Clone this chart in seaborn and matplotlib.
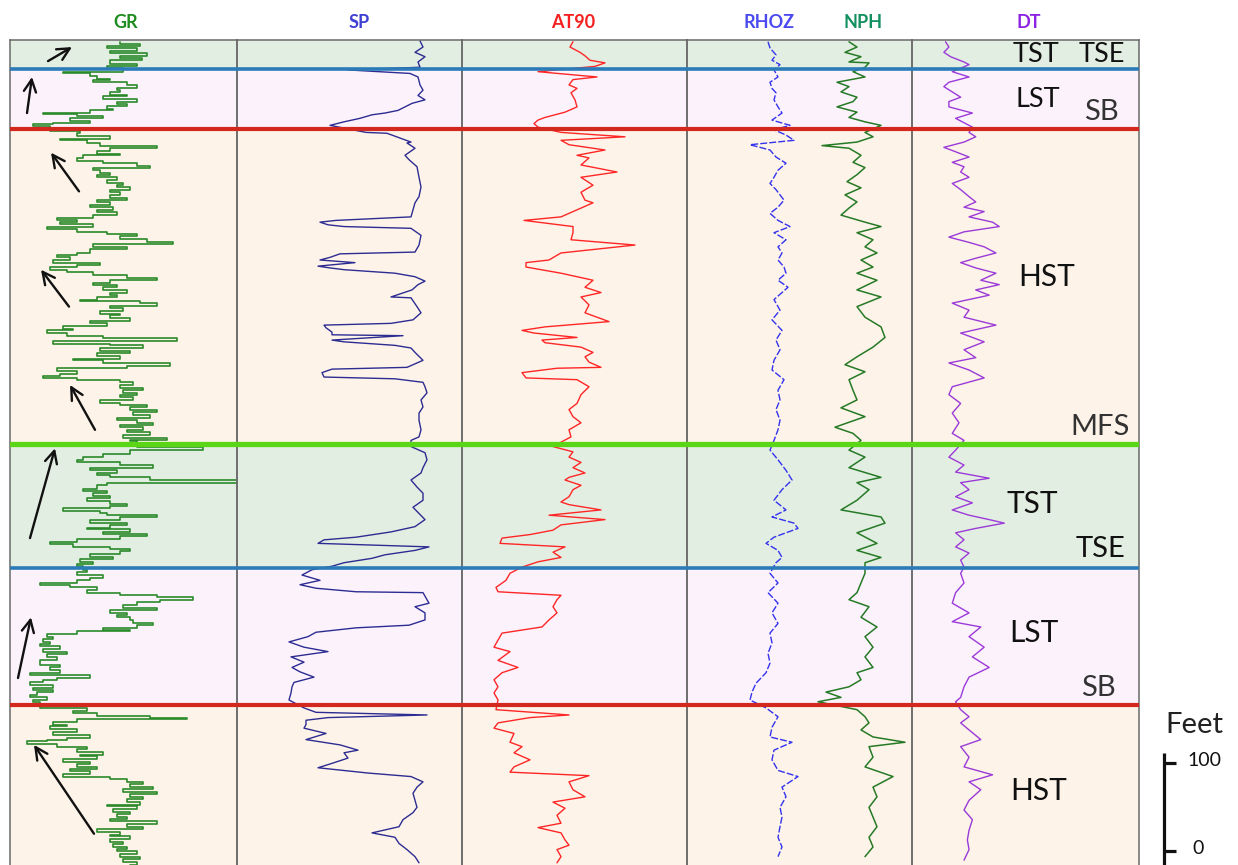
import matplotlib
matplotlib.use("Agg")
import matplotlib.pyplot as plt
import seaborn as sns

sns.set_theme(style="white")
plt.rcParams["font.family"] = ["Lato", "DejaVu Sans"]

# ---------------------------------------------------------------- log data
# depths in feet below the top of the displayed interval

gr_depth = [2, 5, 7, 9, 12, 15, 18, 21, 23, 27, 30, 32,
            36, 38, 41, 44, 46, 48, 51, 54, 57, 59, 62, 64, 67, 70, 73, 75, 78, 80, 83, 84, 86,
            89, 92, 94, 96, 98,
            103, 106, 109, 112, 114, 117, 120, 123, 126, 129, 131, 134, 137, 140, 143, 145, 148,
            151, 153, 156, 159, 162, 165, 167, 170, 173, 176, 179, 182, 184, 188, 190, 193, 196,
            199, 202, 205, 207, 209, 212, 215, 218, 220, 223, 226, 229, 232, 235, 238,
            242, 244, 247, 250, 253, 256, 258, 261, 264, 267, 270, 273, 276, 278, 281, 284, 287,
            290, 292, 295, 297, 299, 302, 305, 308, 311, 313, 316, 319, 322, 325, 328, 330, 333,
            336, 339, 342, 345, 347, 350, 353, 356, 359, 362, 364, 367, 370, 373, 376, 379, 382,
            384, 386, 389, 392, 395, 398, 401, 403, 406, 409, 412, 415, 417, 420, 423, 426, 429,
            432, 435, 437, 440, 443, 446, 449, 452, 454, 456,
            463, 466, 470, 474, 477, 480, 483, 486, 489, 492, 494, 497, 500, 503, 506, 510, 512,
            515, 518, 521, 524, 527, 529, 532, 535, 538, 540, 542, 546, 549, 551, 554, 556, 559,
            561, 564, 567, 570, 573, 576, 578, 581, 584, 587, 590, 593, 596, 598,
            602, 605, 608, 611, 614, 617, 619, 622, 625, 628, 631, 633, 636, 639, 642, 645, 648,
            651, 653, 656, 659, 662, 665, 668, 670, 672, 675, 678, 681, 684, 686, 689, 692, 695,
            698, 701, 704, 710, 713, 716, 719, 722, 725, 727, 730, 733, 736, 739, 741, 744, 747,
            750, 752,
            759, 762, 765, 768, 770, 772, 775, 778, 780, 783, 786, 790, 793, 795, 797, 800, 803,
            806, 809, 812, 814, 817, 820, 823, 826, 828, 831, 834, 837, 840, 843, 846, 849, 851,
            854, 857, 860, 863, 866, 869, 871, 874, 877, 880, 883, 885, 888, 891, 894, 897, 900,
            903, 905, 908, 911, 914, 917, 919, 922, 925, 928, 931, 934, 937]
gr_api = [110, 130, 97, 127, 100, 137, 110, 132, 100, 127, 97, 113,
          53, 80, 87, 100, 83, 117, 127, 107, 110, 100, 117, 93, 127, 107, 117, 97, 103, 80, 33,
          67, 93, 60, 80, 43, 23, 40,
          70, 67, 100, 50, 77, 90, 147, 100, 87, 110, 73, 67, 93, 127, 140, 83, 90,
          100, 87, 107, 97, 113, 107, 120, 100, 110, 100, 117, 87, 100, 80, 103, 87, 107,
          83, 47, 67, 50, 83, 37, 67, 97, 127, 110, 137, 163, 83, 117, 80,
          67, 47, 60, 43, 90, 67, 40, 57, 83, 117, 147, 100, 83, 107, 93, 117, 100,
          107, 87, 70, 130, 147, 100, 113, 90, 110, 100, 120, 80, 97, 53, 63, 37, 57,
          93, 167, 43, 100, 133, 90, 120, 87, 110, 63, 93, 160, 117, 47, 67, 50, 33,
          67, 110, 123, 110, 133, 113, 127, 110, 123, 90, 110, 137, 120, 147, 123, 140, 107,
          127, 143, 110, 133, 117, 140, 113, 157, 120, 127,
          193, 120, 93, 73, 67, 110, 143, 80, 107, 87, 100, 140, 240, 97, 87, 73, 97,
          83, 100, 77, 100, 117, 100, 53, 90, 97, 147, 110, 80, 117, 100, 77, 120, 93,
          137, 110, 67, 40, 63, 100, 120, 110, 80, 103, 70, 83, 67, 73,
          77, 67, 93, 80, 67, 30, 60, 87, 77, 110, 147, 183, 150, 127, 113, 147, 100,
          117, 107, 120, 123, 143, 127, 93, 120, 67, 37, 43, 33, 40, 30, 50, 33, 57,
          37, 47, 30, 50, 40, 50, 20, 80, 47, 33, 20, 43, 23, 43, 27, 20, 37,
          23, 30,
          77, 63, 87, 140, 177, 67, 43, 57, 40, 67, 43, 80, 57, 37, 17, 47, 77,
          67, 93, 70, 87, 53, 80, 67, 87, 60, 80, 53, 100, 117, 133, 120, 143, 113,
          147, 120, 133, 117, 130, 97, 127, 103, 120, 107, 117, 100, 147, 117, 133, 87, 110,
          100, 120, 100, 113, 103, 117, 107, 127, 110, 130, 113, 127, 120]

sp_depth = [1, 8, 14, 19, 25, 31,
            34, 38, 42, 51, 57, 63, 68, 72, 76, 80, 83, 85, 89, 93, 97,
            105, 106, 116, 117, 123, 131, 136, 144, 156, 167, 178, 185, 193, 201, 205, 207, 210, 212,
            214, 222, 233, 241, 243, 247, 250, 253, 257, 259, 261, 265, 269, 274, 278, 284, 292, 293,
            303, 310, 318, 322, 324, 327, 332, 335, 336, 341, 343, 347, 350, 355, 364, 372, 374, 378,
            383, 385, 389, 394, 401, 409, 417, 424, 432, 443, 451, 455,
            462, 469, 477, 486, 492, 500, 508, 515, 523, 531, 538, 545, 553, 559, 565, 568, 572, 574,
            576, 580, 585, 589, 594, 598,
            602, 608, 614, 619, 623, 627, 628, 640, 644, 651, 659, 665, 668, 673, 678, 684, 690, 695,
            701, 707, 713, 718, 724, 730, 735, 742, 750,
            759, 764, 767, 770, 773, 778, 782, 788, 795, 801, 807, 810, 816, 822, 827, 833, 837, 843,
            849, 856, 864, 872, 878, 886, 894, 901, 906, 913, 920, 928, 935]
sp_mv = [23, 26, 18, 28, 21, 23,
         -49, 13, 21, 23, 26, 21, 28, 15, 8, 1, -12, -25, -37, -53, -67,
         -31, -10, 14, 10, 18, 8, 12, 20, 22, 24, 22, 18, 16, 14, -61, -77, -69, -53,
         14, 24, 22, 18, -57, -67, -77, -42, -79, -67, -53, -2, 18, 28, 21, 15, -6, 14,
         20, 24, 16, -6, -73, -71, -65, -65, 6, -65, -53, -2, 14, 18, 26, 10, -65, -75,
         -73, -2, 26, 28, 30, 24, 26, 22, 22, 24, 22, 14,
         14, 28, 30, 26, 24, 14, 20, 26, 26, 16, 22, 28, 18, -6, -41, -73, -79, -22,
         32, 18, -12, -25, -53, -65,
         -85, -95, -77, -97, -81, -41, 26, 32, 18, 28, 28, 12, -41, -81, -89, -108, -93, -69,
         -106, -93, -105, -97, -83, -103, -105, -106, -108,
         -93, -81, 30, -69, -91, -91, -93, -71, -91, -57, -39, -53, -49, -65, -79, -29, 14, 26,
         20, 16, 18, 20, 16, 6, 2, -25, -2, 2, 10, 18, 22]

at90_depth = [2, 8, 14, 18, 23, 26, 30,
              36, 42, 45, 51, 55, 60, 68, 76, 82, 88, 91, 95, 99,
              105, 110, 114, 119, 125, 131, 134, 142, 150, 156, 165, 173, 182, 185, 193, 201, 205,
              208, 212, 219, 227, 233, 242, 250, 253, 258, 265, 273, 281, 287, 292, 301, 310, 320,
              326, 330, 333, 338, 341, 344, 349, 355, 360, 366, 372, 373, 378, 384, 386, 394, 403,
              413, 420, 428, 435, 443, 451, 457,
              462, 468, 474, 480, 486, 492, 497, 500, 506, 511, 519, 525, 528, 534, 540, 545, 551,
              557, 562, 566, 572, 576, 582, 588, 593, 599,
              606, 614, 622, 627, 631, 636, 644, 651, 659, 667, 674, 682, 690, 695, 705, 713, 719,
              727, 735, 742, 750,
              761, 767, 770, 776, 782, 788, 798, 803, 810, 818, 826, 832, 836, 843, 852, 860, 866,
              873, 881, 890, 895, 901, 909, 915, 920, 928, 935]
at90_ohmm = [11.1, 10.8, 11.8, 12.3, 12.8, 14.3, 13.3,
             7.6, 13.5, 11.1, 10.7, 11.5, 10.9, 11.3, 11.5, 10.3, 8.3, 7.6, 7.2, 7.6,
             9.9, 16.3, 9.9, 10.7, 14.3, 11.5, 12.7, 11.9, 15.5, 11.9, 13.1, 11.9, 12.3, 13.1, 11.5,
             9.9, 6.2,
             8.3, 11.1, 11.1, 10.9, 17.3, 9.9, 8.7, 6.4, 6.4, 9.9, 13.1, 12.3, 13.9, 11.9, 12.7,
             12.3, 14.7,
             8.3, 6.0, 7.2, 11.5, 8.0, 8.3, 11.9, 13.1, 12.3, 12.7, 13.9, 9.5, 6.0, 6.4, 11.5,
             12.7, 11.9,
             11.5, 10.7, 11.1, 11.9, 10.7, 10.9, 9.9,
             9.1, 11.1, 10.7, 11.9, 11.1, 12.3, 10.7, 10.3, 11.9, 11.1, 10.7, 9.9, 10.7, 13.9, 8.7,
             14.3, 9.9,
             9.1, 6.8, 4.0, 3.8, 10.3, 9.1, 9.9, 7.6, 6.0,
             4.8, 4.4, 3.4, 3.6, 9.9, 9.5, 9.1, 9.5, 8.7, 8.0, 4.0, 3.6, 3.2, 4.8, 3.6, 5.6, 4.0,
             3.2, 3.6, 3.2, 3.6,
             3.4, 10.7, 6.8, 3.6, 3.2, 5.2, 4.8, 6.0, 5.2, 6.8, 5.2, 4.8, 12.7, 10.7, 11.1, 12.3,
             9.1,
             10.3, 9.5, 9.9, 7.6, 9.9, 10.3, 10.7, 9.5, 9.9, 9.5]

rhoz_depth = [2, 9, 17, 23, 28, 34, 42, 48, 55, 60, 68, 76, 83, 91, 97,
              102, 108, 114, 119, 125, 133, 140, 148, 156, 163, 170, 182, 190, 197, 205, 212, 219,
              227, 235, 242, 250, 258, 265, 273, 281, 287, 295, 307, 318, 330, 341, 352, 364, 375,
              386, 398, 409, 420, 432, 443, 455,
              466, 477, 489, 500, 511, 523, 534, 542, 549, 555, 565, 572, 580, 588, 594,
              606, 617, 628, 640, 651, 663, 674, 685, 697, 708, 719, 731, 741, 750,
              759, 769, 781, 792, 798, 807, 818, 830, 837, 849, 860, 872, 883, 894, 906, 917, 928]
rhoz_gcc = [2.355, 2.365, 2.395, 2.375, 2.415, 2.385, 2.405, 2.365, 2.375, 2.395, 2.385,
            2.405, 2.425, 2.375, 2.465,
            2.385, 2.445, 2.485, 2.265, 2.365, 2.395, 2.445, 2.405, 2.385, 2.365, 2.395, 2.435,
            2.405, 2.365, 2.405, 2.465, 2.385,
            2.445, 2.405, 2.425, 2.405, 2.435, 2.445, 2.405, 2.455, 2.425, 2.385, 2.415, 2.375,
            2.425, 2.395, 2.415, 2.385, 2.375,
            2.435, 2.405, 2.415, 2.395, 2.415, 2.405, 2.385,
            2.365, 2.405, 2.445, 2.475, 2.425, 2.385, 2.445, 2.375, 2.485, 2.505, 2.385, 2.345,
            2.405, 2.425, 2.395,
            2.365, 2.405, 2.355, 2.405, 2.375, 2.405, 2.365, 2.375, 2.355, 2.365, 2.345, 2.295,
            2.275, 2.265,
            2.345, 2.405, 2.375, 2.365, 2.475, 2.385, 2.375, 2.405, 2.505, 2.425, 2.445, 2.415,
            2.425, 2.415, 2.405, 2.425, 2.405]

nph_depth = [2, 8, 14, 19, 25, 26, 31,
             36, 42, 48, 53, 59, 65, 70, 76, 82, 88, 93, 97,
             105, 110, 116, 120, 123, 131, 139, 145, 153, 161, 168, 176, 184, 191, 199, 207, 212,
             219, 227, 235, 242, 250, 258, 265, 273, 284, 292, 303, 315, 326, 338, 349, 360, 369,
             377, 386, 398, 409, 418, 428, 440, 447, 455,
             466, 474, 486, 497, 503, 511, 523, 534, 542, 549, 560, 572, 580, 588, 594,
             606, 617, 628, 636, 644, 656, 667, 678, 690, 701, 713, 719, 727, 735, 741, 747, 752,
             761, 769, 776, 784, 792, 798, 803, 815, 826, 837, 849, 860, 872, 883, 894, 906, 917,
             928]
nph_vv = [0.189, 0.165, 0.201, 0.153, 0.189, 0.129, 0.141,
          0.177, 0.141, 0.225, 0.189, 0.213, 0.165, 0.177, 0.225, 0.165, 0.189, 0.141, 0.093,
          0.141, 0.117, 0.165, 0.270, 0.189, 0.153, 0.177, 0.141, 0.165, 0.195, 0.153, 0.201,
          0.165, 0.189, 0.213, 0.141, 0.093,
          0.165, 0.117, 0.141, 0.105, 0.153, 0.117, 0.165, 0.105, 0.165, 0.093, 0.165, 0.141,
          0.093, 0.081, 0.117, 0.165, 0.201,
          0.141, 0.189, 0.177, 0.165, 0.213, 0.141, 0.231, 0.177, 0.153,
          0.189, 0.141, 0.189, 0.093, 0.165, 0.129, 0.165, 0.213, 0.093, 0.081, 0.165, 0.105,
          0.165, 0.093, 0.141,
          0.141, 0.153, 0.165, 0.189, 0.129, 0.153, 0.105, 0.141, 0.117, 0.141, 0.117, 0.165,
          0.153, 0.189, 0.258, 0.213, 0.282,
          0.165, 0.141, 0.129, 0.153, 0.117, 0.021, 0.129, 0.117, 0.141, 0.057, 0.117, 0.105,
          0.129, 0.117, 0.105, 0.129, 0.117, 0.141]

dt_depth = [2, 8, 14, 19, 25, 28,
            36, 42, 48, 53, 59, 65, 70, 76, 83, 89, 94, 99,
            105, 110, 116, 122, 127, 133, 139, 144, 150, 156, 163, 170, 178, 184, 190, 195, 201,
            207, 212, 218, 224, 230, 235, 242, 248, 253, 259, 265, 273, 278, 284, 290, 299, 307,
            315, 324, 333, 343, 352, 361, 367, 375, 384, 394, 403, 413, 424, 435, 447, 455,
            466, 474, 483, 491, 498, 503, 511, 519, 526, 534, 540, 545, 549, 555, 560, 568, 576,
            583, 591, 599,
            606, 617, 628, 640, 651, 661, 667, 678, 690, 701, 713, 724, 735, 747, 752,
            761, 769, 776, 784, 795, 803, 815, 826, 835, 843, 852, 864, 875, 886, 898, 909, 920,
            932]
dt_usft = [145, 143, 146, 142, 134, 131,
           141, 131, 143, 146, 141, 136, 143, 143, 129, 139, 134, 129,
           131, 127, 134, 146, 139, 131, 141, 134, 136, 131, 141, 136, 131, 127, 134, 122, 131,
           117, 113, 134, 143, 131, 122, 115, 127, 136, 127, 115, 124, 113, 127, 119, 141, 131,
           134, 115, 136, 122, 134, 127, 143, 131, 122, 141, 143, 136, 141, 137, 141, 134,
           139, 143, 134, 139, 119, 136, 131, 139, 129, 141, 131, 119, 110, 127, 139, 134, 139,
           131, 136, 134,
           136, 134, 139, 141, 131, 141, 124, 131, 122, 129, 119, 131, 134, 136, 139,
           136, 131, 136, 131, 124, 136, 131, 134, 117, 131, 124, 131, 134, 129, 131, 132, 131,
           134]

# sequence-stratigraphic intervals (top, base, systems tract)
tract_top = [0, 33, 101, 459, 600, 756]
tract_base = [33, 101, 459, 600, 756, 937.5]
tract_name = ["TST", "LST", "HST", "TST", "LST", "HST"]

# bounding surfaces
surface_depth = [33, 101, 459, 600, 756]
surface_kind = ["TSE", "SB", "MFS", "TSE", "SB"]

# ---------------------------------------------------------------- styling
W, H = 1238, 865
DEPTH_MIN, DEPTH_MAX = 0, 937.5
tract_colors = {"TST": "#e3eee2", "LST": "#fcf2fc", "HST": "#fdf3e8"}
surface_colors = {"TSE": "#2a7bb8", "SB": "#d3281d", "MFS": "#5bd616"}
surface_widths = {"TSE": 2.6, "SB": 3.0, "MFS": 3.8}

track_px = [10, 237, 462, 687, 912, 1139]
top_px, bot_px = 40, 865


def fig_rect(x0, x1):
    return [x0 / W, 1 - bot_px / H, (x1 - x0) / W, (bot_px - top_px) / H]


fig = plt.figure(figsize=(W / 100, H / 100), dpi=100)

# background bands
ax_bg = fig.add_axes(fig_rect(track_px[0], track_px[-1]))
for t0, t1, name in zip(tract_top, tract_base, tract_name):
    ax_bg.axhspan(t0, t1, color=tract_colors[name], lw=0)
ax_bg.set_xlim(0, 1)
ax_bg.set_ylim(DEPTH_MAX, DEPTH_MIN)
ax_bg.axis("off")
ax_bg.set_zorder(0)

# tracks
tracks = []
for i in range(5):
    ax = fig.add_axes(fig_rect(track_px[i], track_px[i + 1]))
    ax.set_facecolor("none")
    ax.set_zorder(1)
    for side in ("left", "right", "top"):
        ax.spines[side].set_color("#6a6a6a")
        ax.spines[side].set_linewidth(1.1)
    ax.spines["bottom"].set_visible(False)
    tracks.append(ax)


def draw_curve(ax, values, depth, color, lw, xlim, **kw):
    sns.lineplot(x=values, y=depth, orient="y", sort=False, estimator=None,
                 ax=ax, color=color, lw=lw, **kw)
    ax.set_xlim(*xlim)
    ax.set_ylim(DEPTH_MAX, DEPTH_MIN)
    ax.set_xlabel("")
    ax.set_ylabel("")
    ax.set_xticks([])
    ax.set_yticks([])


draw_curve(tracks[0], gr_api, gr_depth, "#2a8a2a", 1.2, (0, 227), drawstyle="steps-pre")
draw_curve(tracks[1], sp_mv, sp_depth, "#2c2c92", 1.0, (-160, 65))
draw_curve(tracks[2], at90_ohmm, at90_depth, "#ff2626", 1.0, (0, 22.5))
draw_curve(tracks[3], rhoz_gcc, rhoz_depth, "#3333ee", 1.0, (1.95, 3.075),
           dashes=(5, 1.5))
ax_nph = tracks[3].twiny()
ax_nph.set_facecolor("none")
for s in ax_nph.spines.values():
    s.set_visible(False)
draw_curve(ax_nph, nph_vv, nph_depth, "#267a26", 1.1, (0.675, 0.0))
draw_curve(tracks[4], dt_usft, dt_depth, "#9b3ad8", 1.0, (165, 29.7))

# trend arrows on the GR track (tail -> head, API / ft)
arrows = [((38, 24), (62, 8)), ((17, 83), (22, 42)), ((69, 172), (41, 128)),
          ((59, 303), (31, 261)), ((85, 443), (60, 392)), ((20, 566), (45, 464)),
          ((8, 725), (21, 656)), ((84, 902), (24, 801))]
for tail, head in arrows:
    tracks[0].annotate("", xy=head, xytext=tail,
                       arrowprops=dict(arrowstyle="->", color="#111111", lw=1.7,
                                       mutation_scale=22, shrinkA=0, shrinkB=0))

# overlay: surfaces and labels
ax_top = fig.add_axes(fig_rect(track_px[0], track_px[-1]))
ax_top.set_facecolor("none")
ax_top.set_zorder(5)
ax_top.set_xlim(track_px[0], track_px[-1])
ax_top.set_ylim(DEPTH_MAX, DEPTH_MIN)
ax_top.axis("off")
for d, kind in zip(surface_depth, surface_kind):
    ax_top.axhline(d, color=surface_colors[kind], lw=surface_widths[kind])

labels = [("TST", 1036, 17, 19.5, "#111111"), ("TSE", 1102, 17, 19.5, "#111111"),
          ("LST", 1038, 68, 19.5, "#111111"), ("SB", 1101, 82, 21, "#333333"),
          ("HST", 1047, 269, 21.5, "#111111"), ("MFS", 1100, 440, 21, "#333333"),
          ("TST", 1032, 527, 21.5, "#111111"), ("TSE", 1101, 578, 21, "#111111"),
          ("LST", 1034, 674, 21.5, "#111111"), ("SB", 1098, 736, 21, "#333333"),
          ("HST", 1039, 853, 21.5, "#111111")]
for text, x, d, size, col in labels:
    ax_top.text(x, d, text, ha="center", va="center", fontsize=size, color=col)

# track headers
headers = [("GR", 126, "#1f8c1f"), ("SP", 359, "#4040d4"), ("AT90", 573, "#f52020"),
           ("RHOZ", 769, "#4a4af0"), ("NPH", 863, "#139060"), ("DT", 1029, "#8c22e2")]
for text, x, col in headers:
    fig.text(x / W, 1 - 22 / H, text, ha="center", va="center", fontsize=13,
             fontweight="bold", color=col)

# depth scale bar
ax_sc = fig.add_axes(fig_rect(track_px[-1], W))
ax_sc.set_xlim(track_px[-1], W)
ax_sc.set_ylim(DEPTH_MAX, DEPTH_MIN)
ax_sc.axis("off")
scale_base = 922
bar_x = 1164
ax_sc.plot([bar_x, bar_x], [scale_base - 112, DEPTH_MAX], color="#111111", lw=2.3,
           solid_capstyle="butt")
for val, tx, ha in ((0, 1198, "center"), (100, 1187, "left")):
    dd = scale_base - val
    ax_sc.plot([bar_x, bar_x + 12], [dd, dd], color="#111111", lw=2.3, solid_capstyle="butt")
    ax_sc.text(tx, dd - 3, str(val), ha=ha, va="center", fontsize=14, color="#111111")
ax_sc.text(1194, scale_base - 144, "Feet", ha="center", va="center", fontsize=21,
           color="#222222")

fig.savefig("out.png", dpi=100)
